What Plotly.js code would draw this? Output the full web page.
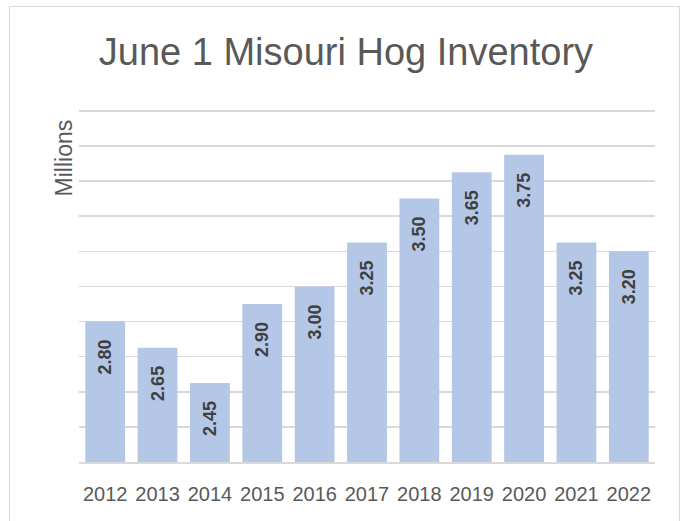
<!DOCTYPE html>
<html>
<head>
<meta charset="utf-8">
<script src="https://cdn.plot.ly/plotly-3.0.1.min.js"></script>
<style>
  html, body { margin: 0; padding: 0; background: #fff; }
  #wrap { position: relative; width: 681px; height: 521px; overflow: hidden; }
  #chart { width: 681px; height: 521px; }
  #frame { position: absolute; left: 9px; top: 6px; width: 671px; height: 540px;
           border: 1px solid #d9d9d9; pointer-events: none; box-sizing: border-box; }
</style>
</head>
<body>
<div id="wrap">
  <div id="chart"></div>
  <div id="frame"></div>
</div>
<script>
const years = ['2012','2013','2014','2015','2016','2017','2018','2019','2020','2021','2022'];
const inventory = [2.80, 2.65, 2.45, 2.90, 3.00, 3.25, 3.50, 3.65, 3.75, 3.25, 3.20];
const chartTitle = 'June 1 Misouri Hog Inventory';
const unitLabel = 'Millions';

const trace = {
  type: 'bar',
  x: years,
  y: inventory,
  marker: { color: '#b4c7e7' },
  texttemplate: '%{y:.2f}\u00a0\u00a0\u00a0',
  textposition: 'inside',
  insidetextanchor: 'end',
  textangle: -90,
  constraintext: 'none',
  textfont: { family: 'Liberation Sans, Arial, sans-serif', size: 18, color: '#404040', weight: 'bold' },
  hoverinfo: 'none'
};

const layout = {
  width: 681,
  height: 521,
  margin: { l: 79, r: 26, t: 109, b: 59 },
  paper_bgcolor: '#ffffff',
  plot_bgcolor: '#ffffff',
  bargap: 0.24,
  showlegend: false,
  title: {
    text: chartTitle,
    font: { family: 'Liberation Sans, Arial, sans-serif', size: 38, color: '#595959' },
    xref: 'container', x: 0.508, xanchor: 'center',
    yref: 'container', y: 0.9, yanchor: 'middle'
  },
  xaxis: {
    type: 'category',
    showgrid: false,
    showline: true,
    linecolor: '#d9d9d9',
    linewidth: 1.5,
    ticks: 'outside',
    ticklen: 13,
    tickcolor: 'rgba(0,0,0,0)',
    tickfont: { family: 'Liberation Sans, Arial, sans-serif', size: 20, color: '#595959' }
  },
  yaxis: {
    range: [2, 4.01],
    tick0: 2,
    dtick: 0.2,
    showticklabels: false,
    showgrid: true,
    gridcolor: '#d9d9d9',
    gridwidth: 1.5,
    zeroline: false,
    showline: false
  },
  annotations: [{
    text: unitLabel,
    xref: 'paper', yref: 'paper',
    x: -0.026, y: 0.86,
    xanchor: 'center', yanchor: 'middle',
    textangle: -90,
    showarrow: false,
    font: { family: 'Liberation Sans, Arial, sans-serif', size: 23, color: '#595959' }
  }]
};

Plotly.newPlot('chart', [trace], layout, { displayModeBar: false, staticPlot: true });
</script>
</body>
</html>
